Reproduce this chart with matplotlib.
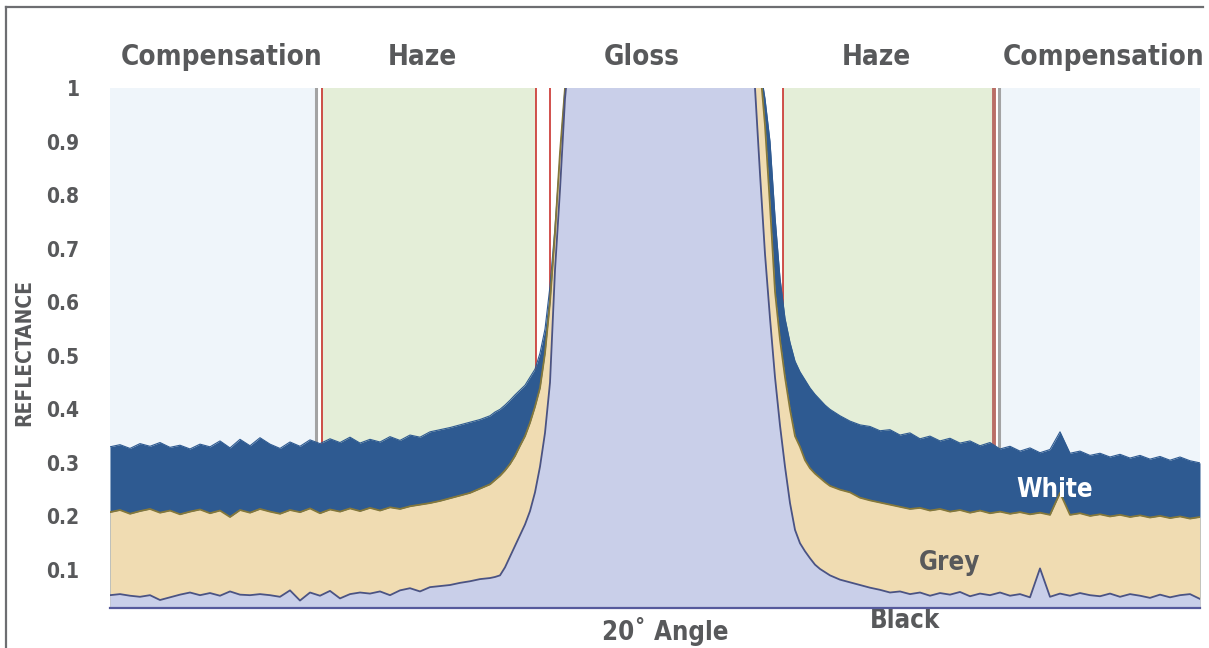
import numpy as np
import matplotlib.pyplot as plt
from matplotlib.lines import Line2D
from matplotlib import font_manager

# look for a narrow bold face; otherwise fall back to Roboto
narrow = None
for f in font_manager.fontManager.ttflist:
    if ('Narrow' in f.name or 'Condensed' in f.name or f.stretch in ('condensed', 'semi-condensed')) \
            and f.weight in ('bold', 700):
        narrow = f
        break
if narrow is not None:
    fam = narrow.name
    stretch = narrow.stretch
else:
    fam = 'Roboto'
    stretch = 'normal'
plt.rcParams['font.family'] = [fam, 'DejaVu Sans']
plt.rcParams['font.stretch'] = stretch
plt.rcParams['font.weight'] = 'bold'

#-------------------------------------------------------------------------------
# detector position across the scan (0 = left end of the window)
pos = (list(range(0, 385, 10)) + list(range(385, 465, 5)) + [480, 520, 560, 600, 640]
       + list(range(645, 725, 5)) + list(range(730, 1091, 10)))

white = [.330, .334, .327, .336, .331, .338, .329, .333, .326, .335,
         .330, .341, .328, .344, .332, .347, .335, .327, .339, .331,
         .343, .336, .345, .338, .348, .337, .344, .339, .349, .342,
         .352, .348, .358, .362, .366, .371, .376, .381, .388,
         .395, .400, .408, .417, .427, .436, .445, .460, .475, .505,
         .550, .630, .740, .870, 1.00, 1.10,
         1.20, 1.20, 1.20, 1.20, 1.10,
         1.08, 1.04, 0.98, 0.90, 0.76, 0.645, 0.57, 0.525, 0.49, 0.47,
         .455, .440, .428, .418, .408, .400,
         .388, .378, .371, .368, .360, .362, .352, .356, .345, .350,
         .341, .346, .337, .341, .332, .338, .326, .331, .322, .328,
         .319, .325, .358, .318, .322, .314, .318, .311, .316, .309,
         .314, .307, .312, .305, .311, .304, .300]

grey = [.208, .212, .205, .210, .214, .207, .211, .204, .209, .213,
        .206, .211, .199, .212, .207, .214, .209, .205, .212, .208,
        .215, .206, .213, .209, .215, .210, .216, .211, .217, .214,
        .219, .222, .225, .229, .234, .239, .244, .252, .260,
        .268, .276, .286, .298, .313, .332, .350, .375, .405, .440,
        .505, .600, .730, .880, 1.00, 1.10,
        1.20, 1.20, 1.20, 1.20, 1.10,
        1.08, 1.04, 0.93, 0.78, 0.62, 0.53, 0.46, 0.40, 0.35, 0.33,
        .305, .290, .280, .272, .264, .257,
        .250, .245, .235, .230, .226, .222, .218, .214, .216, .211,
        .214, .209, .212, .207, .211, .206, .209, .205, .208, .204,
        .207, .203, .244, .203, .206, .201, .204, .200, .203, .199,
        .202, .198, .201, .197, .200, .196, .199]

black = [.053, .055, .052, .050, .053, .044, .049, .054, .058, .053,
         .057, .052, .060, .054, .053, .055, .053, .050, .062, .043,
         .058, .052, .061, .047, .055, .058, .056, .060, .053, .062,
         .066, .060, .068, .070, .072, .076, .079, .083, .085,
         .087, .090, .105, .125, .145, .165, .185, .210, .245, .293,
         .356, .450, .660, .810, .980, 1.08,
         1.20, 1.20, 1.20, 1.20, 1.06,
         1.00, 0.84, 0.69, 0.57, 0.46, 0.37, 0.293, 0.225, 0.175, 0.150,
         .135, .122, .110, .102, .096, .090,
         .082, .077, .072, .067, .063, .058, .060, .055, .058, .052,
         .057, .054, .059, .051, .056, .053, .058, .052, .055, .049,
         .103, .050, .056, .052, .057, .053, .051, .056, .050, .055,
         .052, .048, .054, .049, .053, .055, .046]

# measurement zones
zone_names = ['Compensation', 'Haze', 'Gloss', 'Haze', 'Compensation']
zone_spans = [(0, 206), (211, 426), (426, 673), (673, 884), (889, 1090)]
zone_colors = ['#eff5fa', '#e4eed8', '#ffffff', '#e4eed8', '#eff5fa']
zone_label_x = [112, 312, 532, 766, 994]
red_lines = [211.5, 426, 440, 673]
grey_lines = [206, 889]

yticks = [0.1, 0.2, 0.3, 0.4, 0.5, 0.6, 0.7, 0.8, 0.9, 1.0]
ytick_labels = ['0.1', '0.2', '0.3', '0.4', '0.5', '0.6', '0.7', '0.8', '0.9', '1']
#-------------------------------------------------------------------------------
if stretch == 'normal':
    big, mid, small, ylab = 17, 16, 13, 12
else:
    big, mid, small, ylab = 20, 18.5, 15, 15

txt = '#58595b'
fig = plt.figure(figsize=(12.09, 6.48), dpi=100)
ax = fig.add_axes([110/1209, 40.5/648, 1090/1209, 519.5/648])

for (a, b), c in zip(zone_spans, zone_colors):
    ax.axvspan(a, b, color=c, lw=0, zorder=0)
for xv in grey_lines:
    ax.axvline(xv, color='#a3a3a3', lw=2.2, zorder=1)
for xv in red_lines:
    ax.axvline(xv, color='#c9322e', lw=1.2, zorder=1)
ax.axvline(883.5, color='#b96e66', lw=2.8, zorder=1)

ax.fill_between(pos, 0, white, color='#2e5a91', lw=0, zorder=2)
ax.plot(pos, white, color='#2e5a91', lw=0.8, zorder=2)
ax.fill_between(pos, 0, grey, color='#f0dcb2', lw=0, zorder=3)
ax.plot(pos, grey, color='#85783a', lw=1.3, zorder=3)
ax.fill_between(pos, 0, black, color='#c9cfe9', lw=0, zorder=4)
ax.plot(pos, black, color='#4a5384', lw=1.3, zorder=4)

ax.set_xlim(0, 1090)
ax.set_ylim(0.03, 1.0)
ax.set_xticks([])
ax.set_yticks(yticks)
ax.set_yticklabels(ytick_labels)
ax.tick_params(axis='y', length=0, pad=22, labelsize=small, labelcolor=txt)
for s in ['top', 'left', 'right']:
    ax.spines[s].set_visible(False)
ax.spines['bottom'].set_color('#565a9c')
ax.spines['bottom'].set_linewidth(1.6)
ax.spines['bottom'].set_zorder(10)

for name, xl in zip(zone_names, zone_label_x):
    ax.text(xl, 1.0443, name, transform=ax.get_xaxis_transform(), ha='center',
            va='baseline', fontsize=big, color=txt, fontweight='bold')

ax.text(945, 0.2365, 'White', ha='center', va='baseline', fontsize=mid, color='white', zorder=6)
ax.text(840, 0.100, 'Grey', ha='center', va='baseline', fontsize=mid, color=txt, zorder=6)
ax.text(795, -0.0084, 'Black', ha='center', va='baseline', fontsize=mid, color=txt, zorder=6)
ax.text(555, -0.031, '20\u02da Angle', ha='center', va='baseline', fontsize=mid, color=txt)

fig.text(24/1209, 1 - 352/648, 'REFLECTANCE', rotation=90, ha='center', va='center',
         fontsize=ylab, color=txt, fontweight='bold')

# outer frame (top and left edges only)
fig.add_artist(Line2D([6/1209, 1203/1209], [1 - 7/648, 1 - 7/648], transform=fig.transFigure,
                      color='#6d6e71', lw=1.6))
fig.add_artist(Line2D([6/1209, 6/1209], [0, 1 - 7/648], transform=fig.transFigure,
                      color='#6d6e71', lw=1.6))

fig.savefig('out.png', dpi=100)
